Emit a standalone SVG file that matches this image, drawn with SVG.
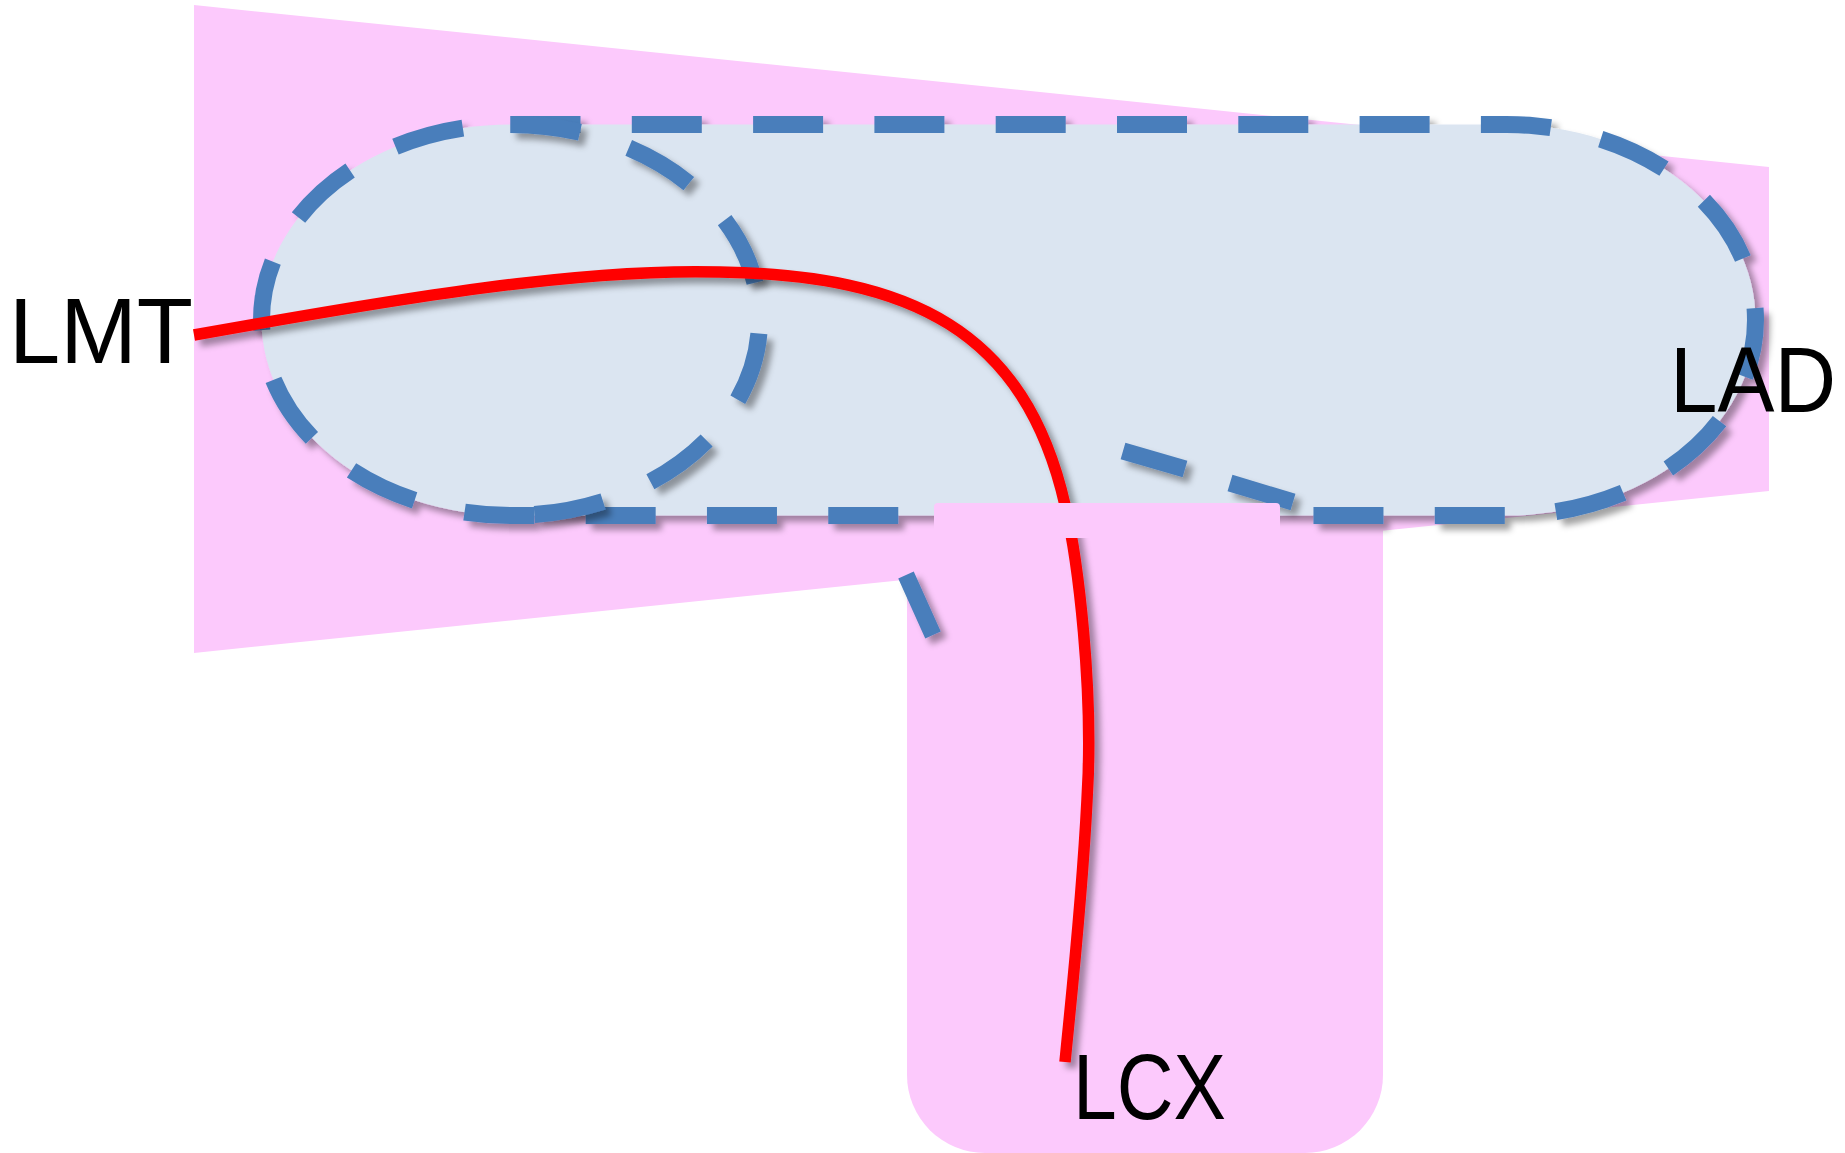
<svg xmlns="http://www.w3.org/2000/svg" width="1845" height="1153" viewBox="0 0 1845 1153">
  <defs>
    <style>
      .pink{fill:#FCC9FC;}
      .vessel{fill:#DBE5F1;}
      .dash{fill:none;stroke:#4A7EBB;stroke-width:17;stroke-dasharray:70 51.3;stroke-linecap:butt;}
      .seg{fill:none;stroke:#4A7EBB;stroke-width:17;stroke-linecap:butt;}
      .wire{fill:none;stroke:#FF0000;stroke-width:11.5;stroke-linecap:butt;}
      .lbl{font-family:"Liberation Sans",Arial,sans-serif;font-size:92px;fill:#000000;}
    </style>
    <filter id="sh" x="-10%" y="-10%" width="130%" height="130%">
      <feDropShadow dx="6" dy="6" stdDeviation="3" flood-color="#000000" flood-opacity="0.36"/>
    </filter>
  </defs>
  <rect x="0" y="0" width="1845" height="1153" fill="#FFFFFF"/>

  <g id="territory">
    <polygon class="pink" points="194,5 1769,167 1769,491 194,653"/>
  </g>

  <g id="lcx-branch">
    <path class="pink" d="M907,500 H1383 V1075 A78,78 0 0 1 1305,1153 H985 A78,78 0 0 1 907,1075 Z"/>
  </g>

  <g id="lad-vessel" filter="url(#sh)">
    <path class="vessel" d="M510.5,124.5 H1506.5 A249,195.5 0 0 1 1506.5,515.5 H510.5 A249,195.5 0 0 1 510.5,124.5 Z"/>
    <path class="dash" d="M510.5,124.5 H1506.5 A249,195.5 0 0 1 1506.5,515.5 H510.5 A249,195.5 0 0 1 510.5,124.5 Z"/>
  </g>

  <g id="lmt-ellipse" filter="url(#sh)">
    <path class="dash" d="M510.5,124.5 A249,195.5 0 0 1 510.5,515.5"/>
  </g>

  <g id="lcx-arc" filter="url(#sh)">
    <path class="seg" d="M1123,451 L1185,469 M1230,483 L1293,502 M906,575 L933,635"/>
  </g>

  <g id="connectors" filter="url(#sh)">
    <path class="wire" d="M194,335 C400,298 580,268 720,272 C910,275 1025,330 1065,505 C1078,560 1094,690 1087,800 C1082,900 1072,990 1065,1062"/>
  </g>

  <g id="junction">
    <path class="pink" d="M934,538 V507 Q934,503 938,503 H1276 Q1280,503 1280,507 V538 Z"/>
  </g>

  <g id="label-lmt">
    <text class="lbl" x="9" y="363">LMT</text>
  </g>
  <g id="label-lad">
    <text class="lbl" x="1670" y="412" textLength="166" lengthAdjust="spacingAndGlyphs">LAD</text>
  </g>
  <g id="label-lcx">
    <text class="lbl" x="1073" y="1119" textLength="153" lengthAdjust="spacingAndGlyphs">LCX</text>
  </g>
</svg>
